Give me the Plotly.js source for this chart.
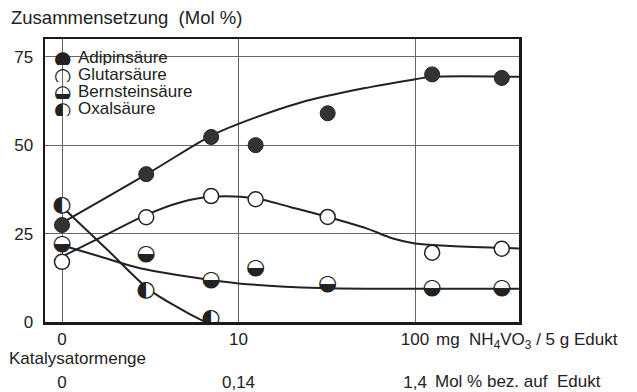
<!DOCTYPE html>
<html><head><meta charset="utf-8">
<script src="https://cdn.plot.ly/plotly-3.0.1.min.js"></script>
<style>html,body{margin:0;padding:0;background:#fff}#chart{width:637px;height:392px}</style>
</head><body><div id="chart"></div>
<script>
// Catalyst amount in mg NH4VO3 / 5 g Edukt (log scale; the "0" sample is drawn one decade below 10, at 1)
const catalyst = [1, 3, 7, 12.5, 32, 125, 310];
const adipin = [27.4, 41.8, 52.3, 50, 59, 70, 69];
const glutar = [17, 29.6, 35.6, 34.7, 29.7, 19.6, 20.7];
const bernstein = [22, 19, 11.7, 15, 10.5, 9.5, 9.6];
const oxalX = [1, 3, 7];
const oxal = [33, 8.8, 1.1];

// Hand-drawn trend curves
const adipinCurveX = [1, 3.07, 6.9, 10, 22.3, 55.6, 100, 125, 388];
const adipinCurveY = [28, 42, 52.5, 56, 62, 66.4, 68.6, 69.3, 69.3];
const glutarCurveX = [1, 1.75, 3.07, 4.66, 6.9, 12.4, 19.6, 32, 53.5, 75, 100, 158, 388];
const glutarCurveY = [18.5, 24.5, 30.5, 33.8, 35.4, 35, 32.5, 29.7, 26.4, 23.6, 22.2, 21.5, 20.8];
const bernsteinCurveX = [1, 1.64, 2.77, 6.9, 10, 28.9, 100, 388];
const bernsteinCurveY = [21.7, 18.5, 15.2, 11.9, 10.9, 9.6, 9.4, 9.4];
const oxalCurveX = [1, 1.8, 3.15, 4.66, 5.9, 6.5];
const oxalCurveY = [32.6, 20.5, 9, 3.8, 1, 0];

const seriesNames = ['Adipinsäure', 'Glutarsäure', 'Bernsteinsäure', 'Oxalsäure'];
const legendGlyphs = ['●', '○', '◒', '◐'];

const xTickVals = [1, 10, 100];
const xTickText = ['0', '10', '100'];
const x2TickText = ['0', '0,14', '1,4'];
const yTickVals = [0, 25, 50, 75];

const ink = '#222';
const FONT = 'Liberation Sans, Arial, sans-serif';
const GLYPH = 'DejaVu Sans';

function curve(x, y) {
  return {x: x, y: y, type: 'scatter', mode: 'lines', line: {color: ink, width: 2, shape: 'spline', smoothing: 1}, hoverinfo: 'skip', showlegend: false};
}

const traces = [
  curve(adipinCurveX, adipinCurveY),
  curve(glutarCurveX, glutarCurveY),
  curve(bernsteinCurveX, bernsteinCurveY),
  curve(oxalCurveX, oxalCurveY),
  {x: catalyst, y: adipin, name: seriesNames[0], type: 'scatter', mode: 'markers',
   marker: {symbol: 'circle', size: 15, color: '#333', line: {color: ink, width: 1}}, showlegend: false},
  {x: catalyst, y: glutar, name: seriesNames[1], type: 'scatter', mode: 'markers',
   marker: {symbol: 'circle', size: 15, color: '#fff', line: {color: ink, width: 1.5}}, showlegend: false},
  {x: catalyst, y: bernstein, name: seriesNames[2], type: 'scatter', mode: 'markers+text',
   text: catalyst.map(() => legendGlyphs[2]), textposition: 'middle center',
   textfont: {family: GLYPH, size: 22, color: ink},
   marker: {symbol: 'circle', size: 15, color: '#fff', line: {width: 0}}, showlegend: false},
  {x: oxalX, y: oxal, name: seriesNames[3], type: 'scatter', mode: 'markers+text',
   text: oxalX.map(() => legendGlyphs[3]), textposition: 'middle center',
   textfont: {family: GLYPH, size: 22, color: ink},
   marker: {symbol: 'circle', size: 15, color: '#fff', line: {width: 0}}, showlegend: false},
  // carries the second (mol %) catalyst scale
  {x: [], y: [], xaxis: 'x2', yaxis: 'y', type: 'scatter', mode: 'markers', showlegend: false, hoverinfo: 'skip'}
];

// pixel helpers for paper placement (plot area 45..519 x, 39..322 y; paper bottom at 370)
const L = 45, W = 474, PB = 370, PH = 331;
const px = v => (v - L) / W;
const py = v => (PB - v) / PH;

const annotations = [
  {text: 'Zusammensetzung  (Mol %)', xref: 'paper', yref: 'paper', x: px(9), y: py(18), xanchor: 'left', yanchor: 'middle', showarrow: false, font: {family: FONT, size: 18.5, color: ink}},
  {text: 'Katalysatormenge', xref: 'paper', yref: 'paper', x: px(7), y: py(358), xanchor: 'left', yanchor: 'middle', showarrow: false, font: {family: FONT, size: 17, color: ink}},
  {text: 'mg  NH<sub>4</sub>VO<sub>3</sub> / 5 g Edukt', xref: 'paper', yref: 'paper', x: px(434), y: py(341), xanchor: 'left', yanchor: 'middle', showarrow: false, font: {family: FONT, size: 17, color: ink}},
  {text: 'Mol % bez. auf  Edukt', xref: 'paper', yref: 'paper', x: px(433), y: py(381), xanchor: 'left', yanchor: 'middle', showarrow: false, font: {family: FONT, size: 17, color: ink}}
];
const legendY = [57, 74, 91, 108];
seriesNames.forEach((n, i) => {
  annotations.push({text: legendGlyphs[i], xref: 'paper', yref: 'paper', x: px(62), y: py(legendY[i]), xanchor: 'center', yanchor: 'middle', height: 15, borderpad: 0, showarrow: false, font: {family: GLYPH, size: 20, color: ink}});
  annotations.push({text: n, xref: 'paper', yref: 'paper', x: px(77), y: py(legendY[i]), xanchor: 'left', yanchor: 'middle', height: 15, borderpad: 0, showarrow: false, font: {family: FONT, size: 17, color: ink}});
});

const layout = {
  width: 637, height: 392,
  margin: {l: 45, r: 118, t: 39, b: 22},
  paper_bgcolor: '#fff', plot_bgcolor: '#fff',
  showlegend: false,
  font: {family: FONT, size: 17, color: ink},
  xaxis: {type: 'log', range: [-0.0963, 2.589], tickvals: xTickVals, ticktext: xTickText,
          showgrid: true, gridcolor: '#666', gridwidth: 1, zeroline: false,
          showline: true, linecolor: '#1a1a1a', linewidth: 2.5, mirror: true,
          ticks: '', ticklabelstandoff: 0, tickfont: {family: FONT, size: 17, color: ink}},
  xaxis2: {type: 'log', range: [-0.0963, 2.589], overlaying: 'x', anchor: 'free', position: 0, side: 'bottom',
           tickvals: xTickVals, ticktext: x2TickText, showgrid: false, zeroline: false, showline: false,
           ticks: '', ticklabelstandoff: 0, tickfont: {family: FONT, size: 17, color: ink}},
  yaxis: {range: [0, 80], domain: [(PB - 322) / PH, 1], tickvals: yTickVals,
          showgrid: true, gridcolor: '#666', gridwidth: 1, zeroline: false,
          showline: true, linecolor: '#1a1a1a', linewidth: 2.5, mirror: true,
          ticks: '', ticklabelstandoff: 6, tickfont: {family: FONT, size: 17, color: ink}},
  shapes: [
    {type: 'rect', xref: 'paper', yref: 'paper', x0: px(47), x1: px(228), y0: py(122), y1: py(42),
     fillcolor: '#fff', line: {width: 0}, layer: 'between'}
  ],
  annotations: annotations
};

Plotly.newPlot('chart', traces, layout, {displayModeBar: false, staticPlot: true});
</script>
</body></html>
